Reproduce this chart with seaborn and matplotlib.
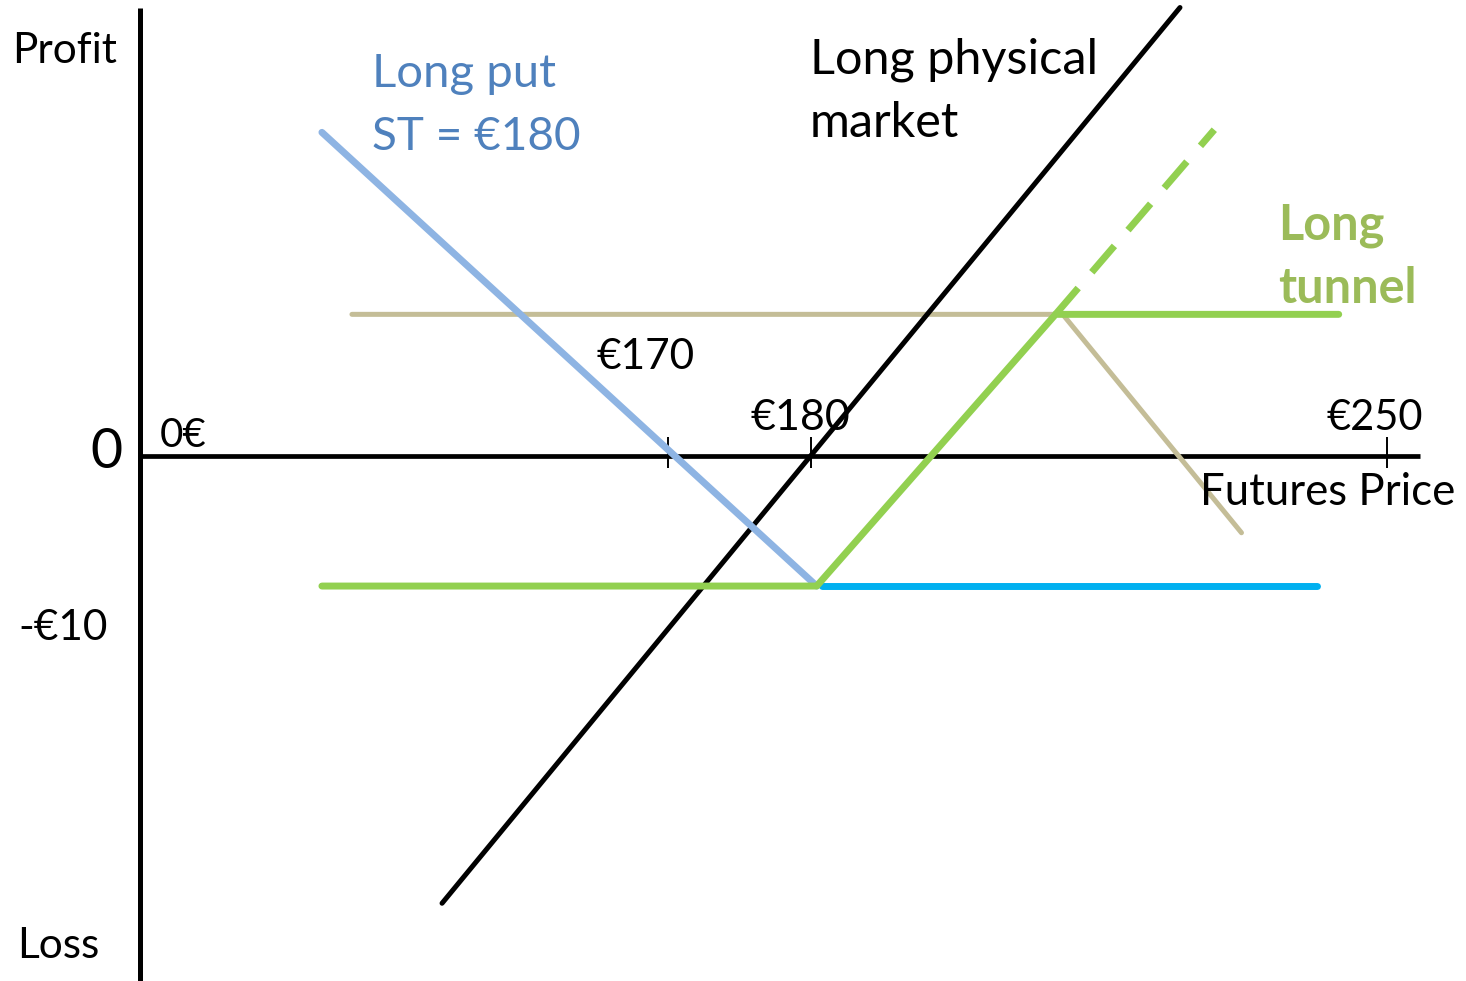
import numpy as np
import pandas as pd
import matplotlib
matplotlib.use("Agg")
import matplotlib.pyplot as plt
import seaborn as sns

# ------------------------------------------------------------
# data (futures price in EUR, profit in EUR)
# ------------------------------------------------------------
physical_x = [154.2, 205.8]
physical_y = [-34.4, 34.5]

put_x = [145.8, 180.4]
put_y = [24.9, -10.0]

put_flat_x = [180.8, 215.4]
put_flat_y = [-10.0, -10.0]

tunnel_x = [145.8, 180.4, 197.1, 216.9]
tunnel_y = [-10.0, -10.0, 10.9, 10.9]

tunnel_dash_x = [197.1, 208.2]
tunnel_dash_y = [10.9, 25.1]

call_x = [147.9, 197.6, 210.1]
call_y = [10.9, 10.9, -5.9]

tick_pos = [170.0, 180.0, 220.3]
tick_labels = ["€170", "€180", "€250"]

# axis frame
y_axis_x = 133.1
x_axis_end = 222.6

# colours
BLACK = "#000000"
PUT_BLUE = "#8EB4E3"
CYAN = "#00B0F0"
GREEN = "#92D050"
TAN = "#C4BD97"
TXT_BLUE = "#4F81BD"
TXT_GREEN = "#9BBB59"

sns.set_theme(style="white")
plt.rcParams["font.family"] = ["Lato", "DejaVu Sans"]

fig = plt.figure(figsize=(14.66, 9.81), dpi=100)
ax = fig.add_axes([0, 0, 1, 1])
ax.set_xlim(123.29, 225.80)
ax.set_ylim(-40.38, 35.08)
ax.axis("off")

# axes of the diagram
ax.plot([y_axis_x, y_axis_x], [34.5, -40.38], color=BLACK, lw=3.6, solid_capstyle="butt")
ax.plot([y_axis_x, x_axis_end], [0, 0], color=BLACK, lw=3.4, solid_capstyle="butt")
ax.vlines(tick_pos, -0.9, 1.5, color=BLACK, lw=1.4)

# payoff lines
sns.lineplot(x=call_x, y=call_y, sort=False, color=TAN, lw=3.6, ax=ax)
sns.lineplot(x=physical_x, y=physical_y, sort=False, color=BLACK, lw=3.6, ax=ax)
sns.lineplot(x=put_x, y=put_y, sort=False, color=PUT_BLUE, lw=5, ax=ax)
sns.lineplot(x=put_flat_x, y=put_flat_y, sort=False, color=CYAN, lw=5, ax=ax)
sns.lineplot(x=tunnel_x, y=tunnel_y, sort=False, color=GREEN, lw=5, ax=ax)
sns.lineplot(x=tunnel_dash_x, y=tunnel_dash_y, sort=False, color=GREEN, lw=5,
             linestyle=(0, (5, 3)), ax=ax)

# texts
def t(x, y, s, size, color=BLACK, ha="left", weight="normal"):
    ax.text(x, y, s, fontsize=size, color=color, ha=ha, va="baseline", fontweight=weight)

t(124.13, 30.23, "Profit", 30.5)
t(124.48, -38.62, "Loss", 30.5)
t(131.89, -0.92, "0", 40, ha="right")
t(124.55, -14.15, "-€10", 30.5)
t(134.48, 0.69, "0€", 29)
t(165.03, 6.69, "€170", 30.5)
t(175.80, 2.0, tick_labels[1], 31)
t(216.08, 2.0, tick_labels[2], 30)
t(207.20, -3.77, "Futures Price", 31.5)
t(149.30, 28.38, "Long put", 34, color=TXT_BLUE)
t(149.30, 23.54, "ST = €180", 33, color=TXT_BLUE)
t(179.93, 29.46, "Long physical", 35)
t(179.93, 24.54, "market", 35)
t(212.66, 16.62, "Long", 35, color=TXT_GREEN, weight="bold")
t(212.66, 11.77, "tunnel", 35, color=TXT_GREEN, weight="bold")

plt.savefig("out.png", dpi=100)
